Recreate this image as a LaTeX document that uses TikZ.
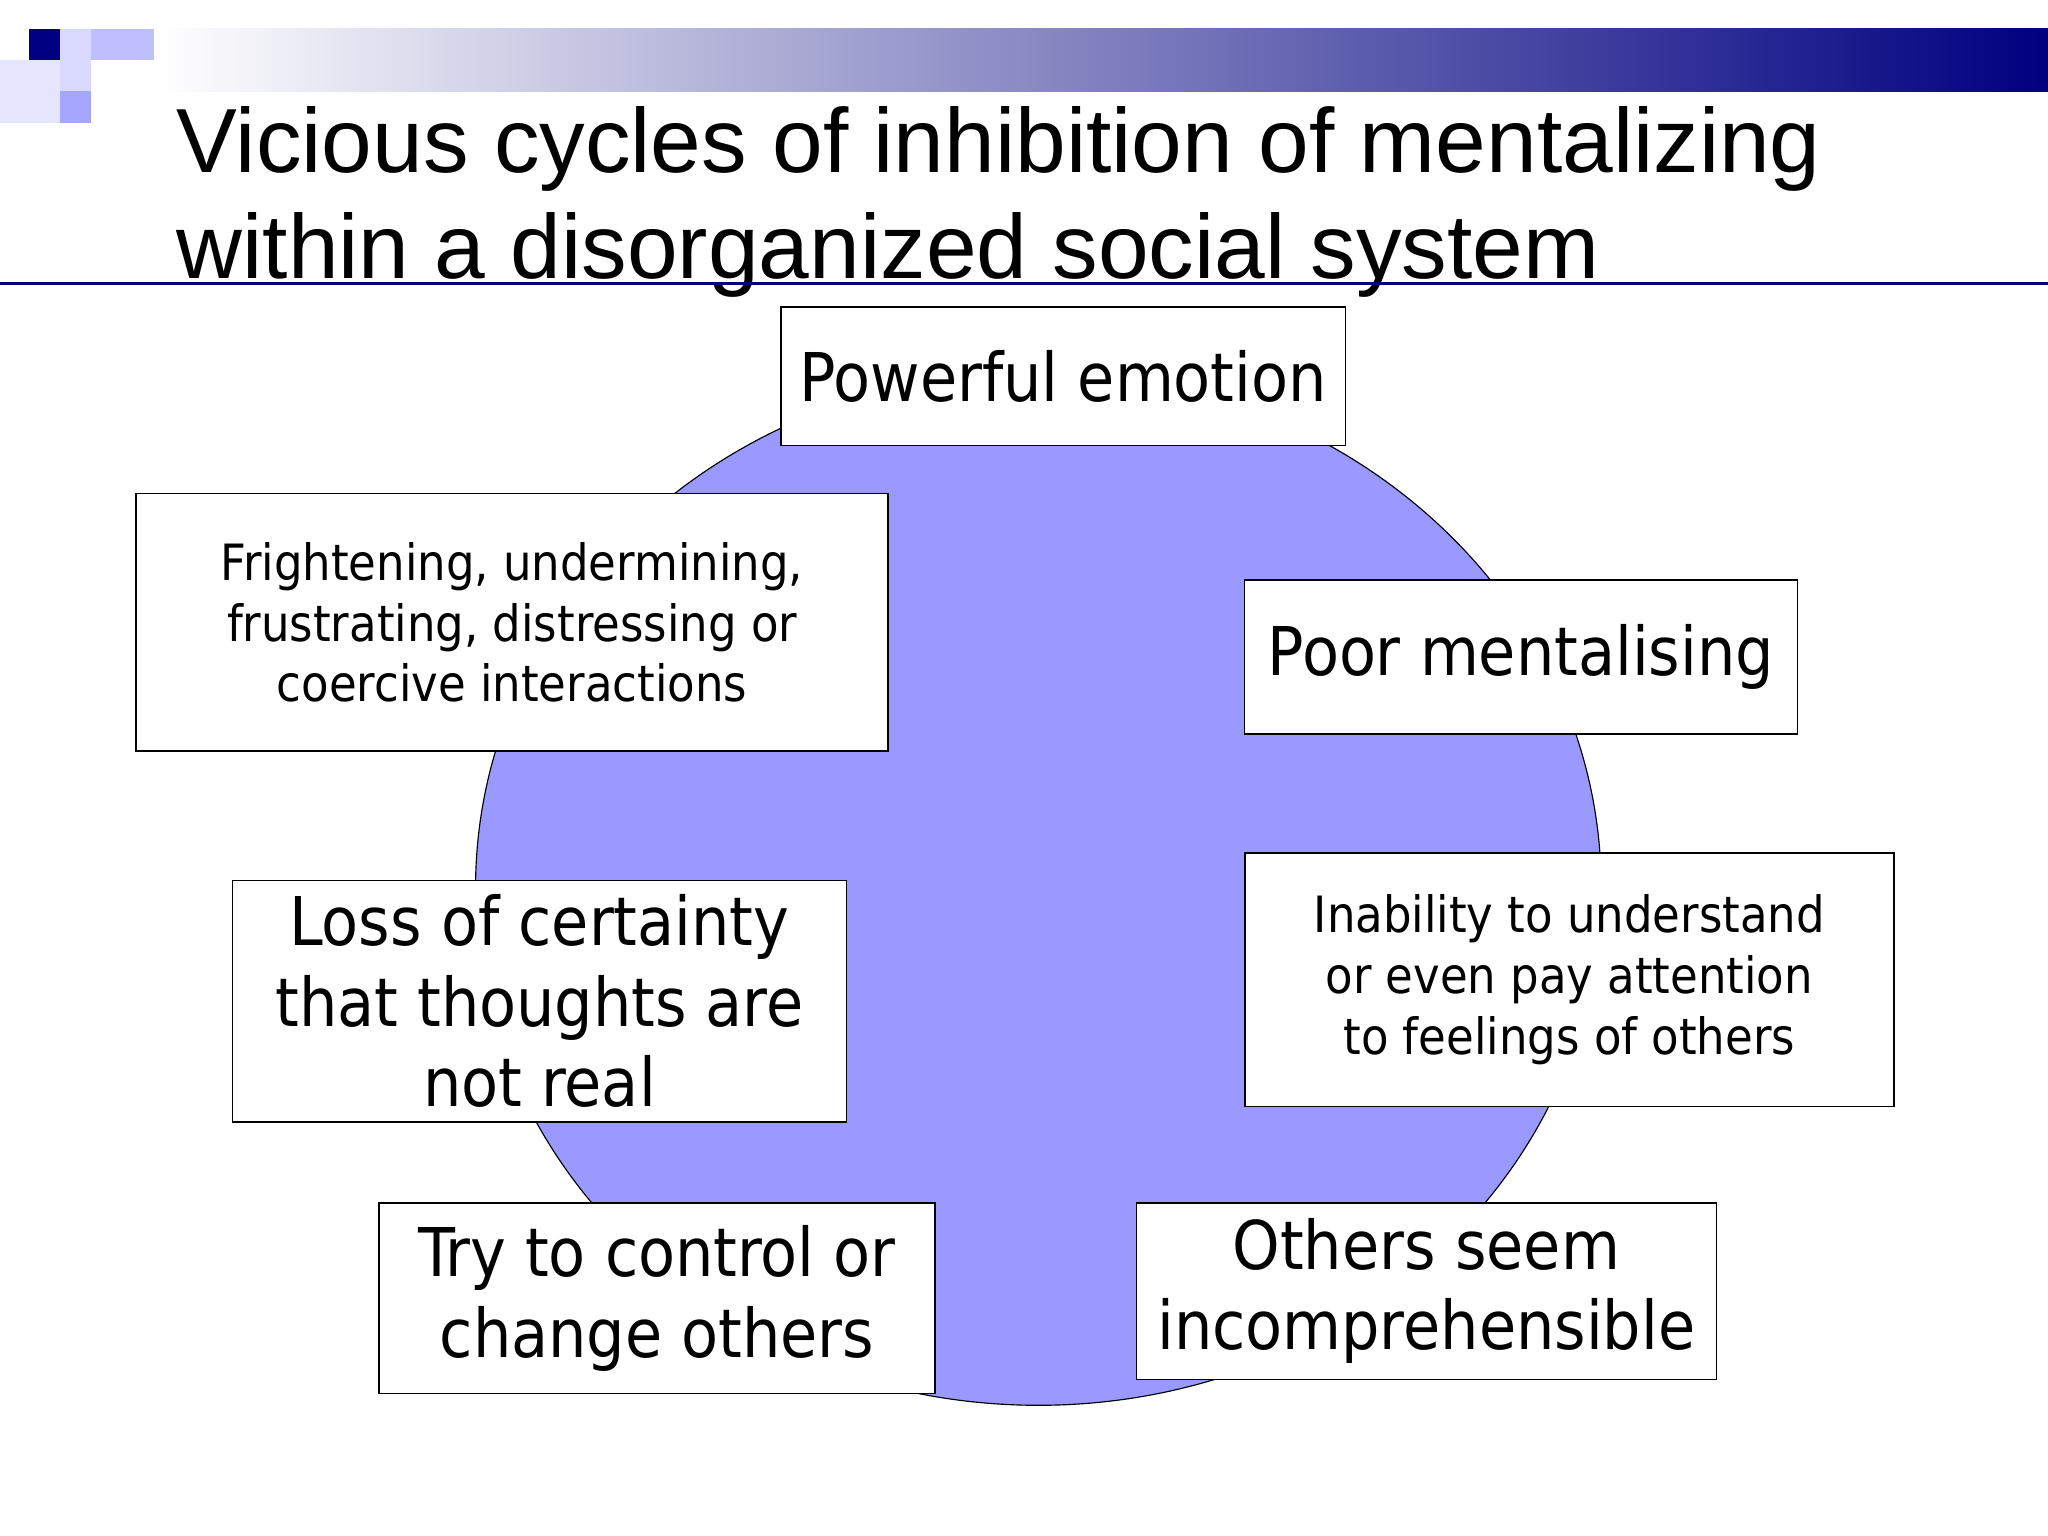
\documentclass[tikz,border=0pt]{standalone}
\usepackage{fontspec}
\setmainfont{DejaVu Sans Condensed}
\newfontfamily\titlefont{Liberation Sans}
\begin{document}
\begin{tikzpicture}[x={(0.02cm,0)},y={(0,-0.02cm)},
  bx/.style={draw=black,fill=white,line width=0.6pt,align=center,inner sep=0pt},
  fs/.style={font=\fontsize{21.8}{26.5}\selectfont},
  fl/.style={font=\fontsize{29.3}{35}\selectfont}]
\useasboundingbox (0,0) rectangle (1568,1176);
\fill[white] (0,0) rectangle (1568,1176);
% header
\shade[left color=white,right color=blue!50!black!100] (120,22) rectangle (1568,70);
\fill[blue!50!black] (22,22) rectangle (46,46);
\fill[blue!25!white] (70,22) rectangle (118,46);
\fill[blue!15!white] (46,22) rectangle (70,46);
\fill[blue!10!white] (0,46) rectangle (46,94);
\fill[blue!15!white] (46,46) rectangle (70,70);
\fill[blue!35!white] (46,70) rectangle (70,94);
\node[anchor=base west,font=\titlefont\fontsize{39.7}{45}\selectfont,inner sep=0pt] (t1) at (135,132) {Vicious cycles of inhibition of mentalizing};
\node[anchor=base west,font=\titlefont\fontsize{39.7}{45}\selectfont,inner sep=0pt] (t2) at (135,213) {within a disorganized social system};
\draw[blue!50!black,line width=1.6pt] (0,217) -- (1568,217);
% circle
\filldraw[fill={rgb,255:red,153;green,153;blue,255},line width=0.5pt] (795,680) ellipse[x radius=8.62cm,y radius=7.92cm];
% boxes
\node[bx,fl,minimum width=8.64cm,minimum height=2.12cm] (pe) at (814,288) {Powerful emotion};
\node[bx,fs,minimum width=11.52cm,minimum height=3.94cm] (fr) at (392,476.5) {Frightening, undermining,\\ frustrating, distressing or\\ coercive interactions};
\node[bx,fl,minimum width=8.46cm,minimum height=2.36cm] (pm) at (1164.5,503) {Poor mentalising};
\node[bx,fl,minimum width=9.4cm,minimum height=3.7cm] (lc) at (413,766.5) {Loss of certainty\\ that thoughts are\\ not real};
\node[bx,fs,minimum width=9.94cm,minimum height=3.88cm] (in) at (1201.5,750) {Inability to understand\\ or even pay attention\\ to feelings of others};
\node[bx,fl,minimum width=8.52cm,minimum height=2.92cm] (tc) at (503,994) {Try to control or\\ change others};
\node[bx,fl,minimum width=8.88cm,minimum height=2.7cm] (os) at (1092,988.5) {Others seem\\ incomprehensible};
\end{tikzpicture}
\end{document}
